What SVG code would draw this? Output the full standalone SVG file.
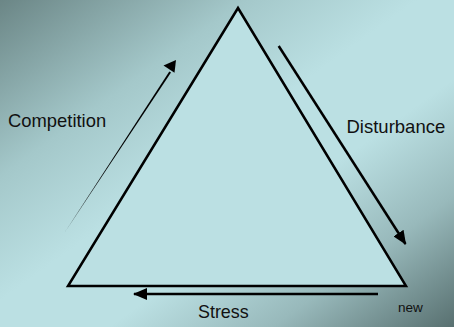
<svg xmlns="http://www.w3.org/2000/svg" width="454" height="327" viewBox="0 0 454 327">
<defs>
<linearGradient id="bg" x1="0" y1="0" x2="1" y2="1">
<stop offset="0" stop-color="#6b8686"/>
<stop offset="0.27" stop-color="#a4c8ca"/>
<stop offset="0.46" stop-color="#bbe0e3"/>
<stop offset="0.62" stop-color="#bbe0e3"/>
<stop offset="0.8" stop-color="#98b9bb"/>
<stop offset="1" stop-color="#587070"/>
</linearGradient>
<marker id="ah" viewBox="0 0 14 12" refX="13" refY="6" markerWidth="14" markerHeight="12" markerUnits="userSpaceOnUse" orient="auto">
<path d="M0,0 L14,6 L0,12 Z" fill="#000"/>
</marker>
</defs>
<style>
.lbl{font-family:"Liberation Sans",Arial,sans-serif;fill:#111}
.ln{stroke:#000;stroke-width:2.5;fill:none}
</style>
<rect x="0" y="0" width="454" height="327" fill="url(#bg)"/>
<g id="triangle">
<polygon points="238,8 68,286 406,286" fill="#bbe0e3" stroke="#000" stroke-width="2.5" stroke-linejoin="miter"/>
</g>
<g id="connectors">
<polygon points="65,232 169.3,71.4 171.0,72.4" fill="#000"/>
<polygon points="176,60 163.5,65.5 174.5,72.8" fill="#000"/>
<line class="ln" x1="278.7" y1="46" x2="405.5" y2="244" marker-end="url(#ah)"/>
<line class="ln" x1="378" y1="294" x2="134" y2="294" marker-end="url(#ah)"/>
</g>
<g id="competition"><text class="lbl" x="8" y="127" font-size="18.4">Competition</text></g>
<g id="disturbance"><text class="lbl" x="346.5" y="133" font-size="18.5">Disturbance</text></g>
<g id="stress"><text class="lbl" x="198" y="318" font-size="17.9">Stress</text></g>
<g id="new"><text class="lbl" x="398" y="311.5" font-size="13.6">new</text></g>
</svg>
